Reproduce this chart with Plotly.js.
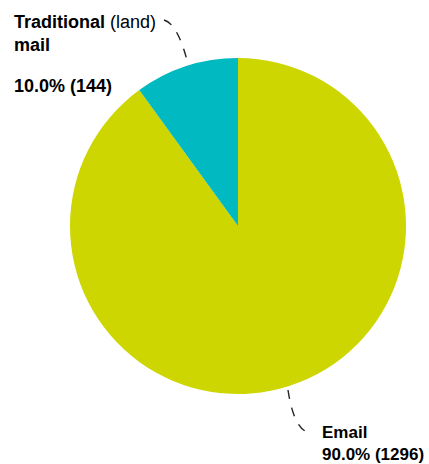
<!DOCTYPE html>
<html>
<head>
<meta charset="utf-8">
<script src="https://cdn.plot.ly/plotly-3.0.1.min.js"></script>
<style>html,body{margin:0;padding:0;background:#fff;}#chart{width:429px;height:464px;}</style>
</head>
<body>
<div id="chart"></div>
<script>
var categories = ["Email", "Traditional (land) mail"];
var values = [1296, 144];
var colors = ["#CDD600", "#00B9C1"];

var W = 429, H = 464;
function px(x){ return x / W; }
function py(y){ return 1 - y / H; }

var total = values.reduce(function(a,b){return a+b;}, 0);
function pct(v){ return (100 * v / total).toFixed(1) + "% (" + v + ")"; }

var trace = {
  type: "pie",
  labels: categories,
  values: values,
  sort: false,
  direction: "clockwise",
  rotation: 0,
  textinfo: "none",
  hoverinfo: "label+value+percent",
  marker: {colors: colors, line: {width: 0}},
  domain: {x: [px(70), px(406)], y: [py(394), py(58)]},
  showlegend: false
};

var font = {family: "Liberation Sans, Arial, sans-serif", size: 18, color: "#000"};
var fontB = {family: "Liberation Sans, Arial, sans-serif", size: 17, color: "#000"};

var layout = {
  width: W, height: H,
  margin: {l: 0, r: 0, t: 0, b: 0},
  paper_bgcolor: "#fff",
  showlegend: false,
  annotations: [
    {xref: "paper", yref: "paper", x: px(12), y: py(10), xanchor: "left", yanchor: "top",
     align: "left", showarrow: false, font: font,
     text: "<b>Traditional</b> (land)<br><b>mail</b>"},
    {xref: "paper", yref: "paper", x: px(12), y: py(74), xanchor: "left", yanchor: "top",
     align: "left", showarrow: false, font: font,
     text: "<b>" + pct(values[1]) + "</b>"},
    {xref: "paper", yref: "paper", x: px(320), y: py(421), xanchor: "left", yanchor: "top",
     align: "left", showarrow: false, font: fontB,
     text: "<b>Email</b><br><b>" + pct(values[0]) + "</b>"}
  ],
  shapes: [
    {type: "path", xref: "paper", yref: "paper",
     path: "M" + px(164) + "," + py(20) + " Q" + px(178) + "," + py(24) + " " + px(188) + "," + py(64),
     line: {color: "#222", width: 1.4, dash: "dash"}},
    {type: "path", xref: "paper", yref: "paper",
     path: "M" + px(288) + "," + py(390) + " Q" + px(294) + "," + py(430) + " " + px(310) + "," + py(433),
     line: {color: "#222", width: 1.4, dash: "dash"}}
  ]
};

Plotly.newPlot("chart", [trace], layout, {displayModeBar: false, staticPlot: true});
</script>
</body>
</html>
